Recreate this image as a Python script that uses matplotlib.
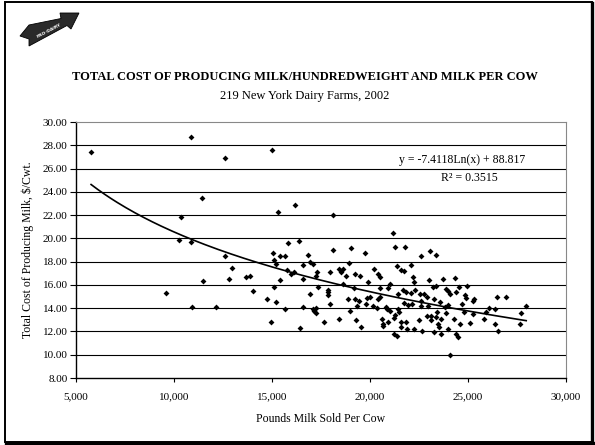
import numpy as np
import matplotlib
matplotlib.use("Agg")
import matplotlib.pyplot as plt
from matplotlib.patches import Polygon, Rectangle
from matplotlib.lines import Line2D
from matplotlib.ticker import FuncFormatter

plt.rcParams['font.family'] = ['Liberation Serif', 'DejaVu Serif']

title = "TOTAL COST OF PRODUCING MILK/HUNDREDWEIGHT AND MILK PER COW"
subtitle = "219 New York Dairy Farms, 2002"
xlabel = "Pounds Milk Sold Per Cow"
ylabel = "Total Cost of Producing Milk, $/Cwt."
eq_text = "y = -7.4118Ln(x) + 88.817"
r2_text = "R\u00b2 = 0.3515"
trend_a = -7.4118
trend_b = 88.817

x_ticks = [5000, 10000, 15000, 20000, 25000, 30000]
y_ticks = [8, 10, 12, 14, 16, 18, 20, 22, 24, 26, 28, 30]

milk_lbs = [
    5770, 10850, 12620, 11410, 10370, 10240, 10850, 12590, 12820, 11500, 9580, 10930, 12130, 14980,
    16160, 15290, 15820, 16380, 15070, 15410, 15660, 15120, 15200, 16850, 16940, 17090, 16600, 15770,
    16120, 15970, 17300, 17230, 17960, 16570, 15390, 13650, 13900, 12970, 14020, 15120, 17370, 17860,
    17860, 17870, 16950, 14750, 15200, 15660, 16570, 17110, 17230, 17160, 17230, 17960, 14970, 16450, 17670,
    18130, 21160, 21260, 21770, 19030, 18130, 19730, 22580, 23060, 18950, 18400, 18610, 18520, 18780,
    19250, 19510, 20220, 20420, 20510, 21390, 21580, 21720, 22080, 22180, 22260, 22990, 19910, 18640,
    19200, 21040, 20510, 20940, 21670, 21820, 22080, 22300, 22550, 22770, 22890, 21440, 18880, 19220,
    19420, 19860, 19980, 20420, 20510, 19340, 19780, 20370, 20820, 20880, 21020, 21720, 21960, 22160,
    22600, 22620, 22960, 21410, 21480, 18980, 18400, 19290, 19530, 20630, 20650, 20650, 20940, 21230,
    21280, 21570, 21820, 21600, 21900, 22260, 22520, 22670, 22920, 21210, 21390, 20150,
    23350, 23200, 23370, 23740, 24340, 23880, 23960, 24100, 24390, 24560, 24950, 24850, 24910, 25290,
    25240, 24690, 23270, 23570, 23840, 23990, 23400, 23100, 23110, 23350, 23620, 23490, 23540, 23250,
    23610, 23980, 24270, 23880, 24370, 24490, 24570, 24800, 25090, 25240, 25800, 25940, 26060, 26380,
    26480, 26960, 26390, 26550, 27640, 27720, 27970, 24100,
]
cost_cwt = [
    27.4, 28.7, 26.9, 23.5, 21.8, 19.9, 19.7, 18.5, 16.5, 16.3, 15.3, 14.1, 14.1, 27.6,
    22.9, 22.3, 19.6, 19.8, 18.75, 18.5, 18.45, 18.1, 17.8, 18.6, 18.0, 17.8, 17.7, 17.3,
    17.1, 16.95, 17.1, 16.8, 17.1, 16.5, 16.4, 16.65, 16.8, 17.45, 15.5, 15.8, 15.85, 15.6,
    15.35, 15.1, 15.25, 14.8, 14.55, 13.9, 14.1, 13.9, 14.05, 13.75, 13.55, 14.4, 12.8, 12.3, 12.8,
    22.0, 20.5, 19.3, 19.3, 19.15, 19.0, 18.75, 18.5, 18.95, 17.9, 17.35, 17.35, 17.15, 16.75,
    16.95, 16.8, 17.35, 16.95, 16.7, 17.65, 17.25, 17.2, 17.7, 16.65, 16.25, 16.4, 16.25, 16.1,
    15.7, 16.05, 15.75, 15.7, 15.6, 15.35, 15.3, 15.55, 15.2, 15.2, 15.0, 15.25, 14.8, 14.75,
    14.65, 14.85, 14.95, 14.75, 14.95, 14.2, 14.35, 14.05, 14.1, 13.9, 13.75, 14.45, 14.3, 14.35,
    14.6, 14.15, 14.15, 13.9, 13.65, 13.8, 13.1, 12.95, 12.4, 13.1, 12.65, 12.5, 12.85, 13.15,
    13.4, 12.85, 12.8, 12.35, 12.2, 12.2, 13.0, 12.0, 13.3, 11.8, 11.6, 14.15,
    18.55, 15.85, 15.9, 16.55, 16.6, 15.65, 15.45, 15.2, 15.35, 15.85, 15.9, 15.1, 14.9, 14.8,
    14.6, 14.35, 14.75, 14.55, 14.1, 14.3, 13.65, 13.3, 12.95, 13.2, 13.1, 12.6, 12.4, 11.95,
    11.8, 12.2, 13.1, 13.6, 11.8, 11.55, 12.65, 13.65, 12.75, 13.5, 13.05, 13.65, 14.05, 13.9,
    14.95, 14.95, 12.65, 12.05, 12.65, 13.6, 14.2, 9.95,
]

W, H = 595, 445
fig = plt.figure(figsize=(W / 100, H / 100), dpi=100)
fig.patch.set_facecolor('white')


def fx(px):
    return px / W


def fy(py):
    return 1 - py / H


# outer frame with heavier right/bottom edge
fig.patches.append(Rectangle((fx(5), fy(442)), 587 / W, 440 / H, transform=fig.transFigure,
                             fill=False, edgecolor='black', linewidth=1.4))
fig.lines.append(Line2D([fx(592), fx(592)], [fy(3), fy(443)], transform=fig.transFigure,
                        color='black', linewidth=2.4))
fig.lines.append(Line2D([fx(6), fx(593)], [fy(442.5), fy(442.5)], transform=fig.transFigure,
                        color='black', linewidth=2.4))

# logo arrow
logo_px = [(20, 36), (29, 25), (61, 18.5), (60, 13), (79, 13), (71, 29), (67, 25.5),
           (29, 46), (29, 39)]
logo = Polygon([(fx(x), fy(y)) for x, y in logo_px], closed=True, transform=fig.transFigure,
               facecolor='#2a2a2a', edgecolor='black', linewidth=0.6)
fig.patches.append(logo)
fig.text(fx(49), fy(31), "PRO-DAIRY", color='white', fontsize=3.2, fontweight='bold',
         rotation=28, ha='center', va='center', family=['DejaVu Sans'])

fig.text(fx(305), fy(77), title, ha='center', va='center', fontsize=9, fontweight='bold')
fig.text(fx(305), fy(96), subtitle, ha='center', va='center', fontsize=9)

ax = fig.add_axes([fx(76), fy(378), 490 / W, 256 / H])
ax.set_xlim(5000, 30000)
ax.set_ylim(8, 30)
for yv in y_ticks[1:-1]:
    ax.axhline(yv, color='black', linewidth=0.8, zorder=1)

ax.scatter(milk_lbs, cost_cwt, marker='D', s=9, color='black', zorder=3, linewidths=0)

xs = np.linspace(min(milk_lbs), max(milk_lbs), 200)
ax.plot(xs, trend_a * np.log(xs) + trend_b, color='black', linewidth=1.2, zorder=2)

ax.set_xticks(x_ticks)
ax.set_yticks(y_ticks)
ax.xaxis.set_major_formatter(FuncFormatter(lambda v, p: f"{int(v):,}"))
ax.yaxis.set_major_formatter(FuncFormatter(lambda v, p: f"{v:.2f}"))
ax.tick_params(axis='both', labelsize=8, direction='out', color='black')
ax.tick_params(axis='y', length=4, width=0.8, pad=2)
ax.tick_params(axis='x', length=3, width=0.8, pad=7)
ax.spines['left'].set_color('black')
ax.spines['bottom'].set_color('black')
ax.spines['left'].set_linewidth(1.0)
ax.spines['bottom'].set_linewidth(1.0)
ax.spines['top'].set_color('#888888')
ax.spines['right'].set_color('#888888')
ax.spines['top'].set_linewidth(0.8)
ax.spines['right'].set_linewidth(0.8)

ax.set_xlabel(xlabel, fontsize=8.5, labelpad=9)
ax.set_ylabel(ylabel, fontsize=8.5, labelpad=6)

fig.text(fx(462), fy(160), eq_text, ha='center', va='center', fontsize=8.5)
fig.text(fx(469), fy(178), r2_text, ha='center', va='center', fontsize=8.5)

fig.savefig("out.png", dpi=100, facecolor='white')
